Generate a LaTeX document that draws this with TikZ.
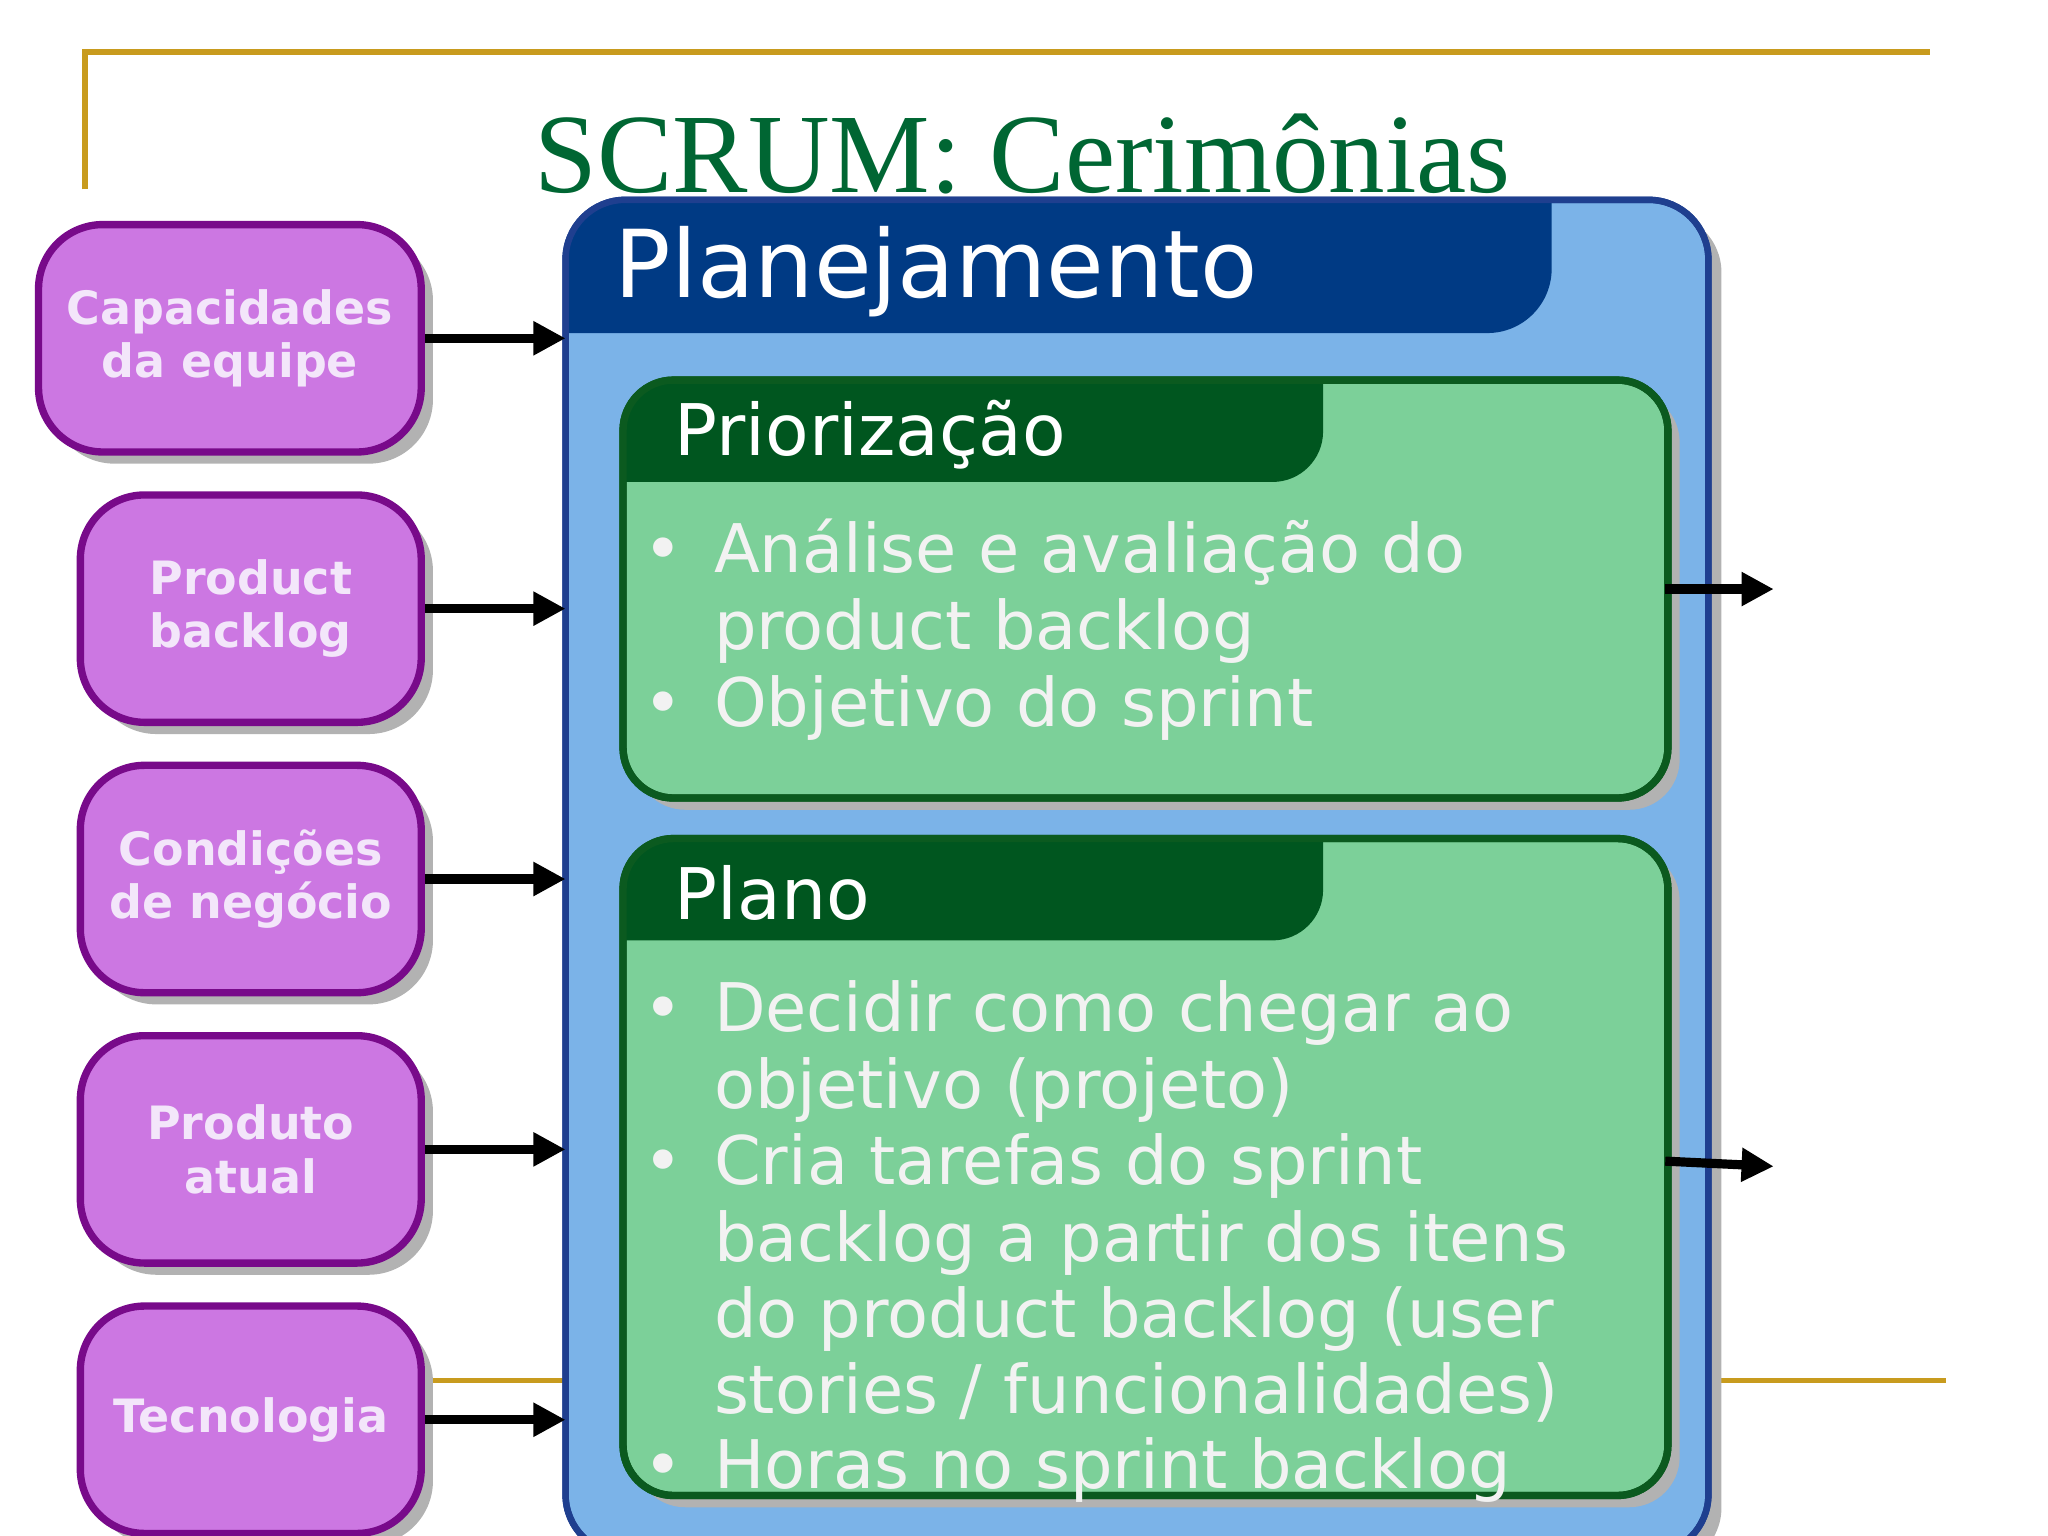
\documentclass[tikz,border=0pt]{standalone}
\usepackage{fontspec}
\setmainfont{DejaVu Sans}
\newfontfamily\titlefont{Liberation Serif}
\usetikzlibrary{arrows.meta}
\definecolor{gold}{HTML}{C89B1E}
\definecolor{titgreen}{HTML}{006633}
\definecolor{planfill}{HTML}{7BB3E8}
\definecolor{planline}{HTML}{1F3F8F}
\definecolor{plandark}{HTML}{003A84}
\definecolor{grfill}{HTML}{7CD099}
\definecolor{grline}{HTML}{0B5A1F}
\definecolor{grdark}{HTML}{00561F}
\definecolor{pufill}{HTML}{CC77E2}
\definecolor{puline}{HTML}{780A8A}
\definecolor{putext}{HTML}{F3E6FA}
\definecolor{bltext}{HTML}{F2F2F2}
\tikzset{
  inbox/.style = {draw = puline, line width = 1.6pt, fill = pufill, rounded corners = 14pt,
    text = putext, font = \bfseries\fontsize{10pt}{11.6pt}\selectfont, align = center},
  feed/.style = {line width = 2pt, -{Triangle[length=7pt,width=7pt]}},
  bline/.style = {anchor = base west, text = bltext, font = \fontsize{14.6pt}{16.5pt}\selectfont, inner sep = 0pt},
  shadow/.style = {fill = black!30, draw = none}
}
\begin{document}
\begin{tikzpicture}[x = 0.01cm, y = -0.01cm]
		\useasboundingbox (0,0) rectangle (1568,1176);
		% frame lines
		\draw [gold, line width = 1.2pt] (65,145) -- (65,40) -- (1478,40);
		\draw [gold, line width = 1.2pt] (325,1057) -- (1490,1057);
		\node (title) at (783,118) [text = titgreen, font = \titlefont\fontsize{24.6pt}{24.6pt}\selectfont] {SCRUM: Cerimônias};
		
		% planejamento
		\fill [shadow, rounded corners = 13pt] (443,163) rectangle (1318,1200);
		\draw [planline, line width = 1.4pt, fill = planfill, rounded corners = 13pt] (433,153) rectangle (1308,1190);
		\begin{scope}
			\clip [rounded corners = 13pt] (433,153) rectangle (1308,1190);
			\fill [plandark] (433,153) -- (1188,153) [rounded corners = 14pt] -- (1188,255) [sharp corners] -- (433,255) -- cycle;
		\end{scope}
		\draw [planline, line width = 1.4pt, rounded corners = 13pt] (433,153) rectangle (1308,1190);
		\node (plan) at (470,208) [anchor = west, text = white, font = \fontsize{20.4pt}{20.4pt}\selectfont, inner sep = 0pt] {Planejamento};
		\coordinate (pw) at (433,0);
		
		% priorizacao
		\fill [shadow, rounded corners = 11pt] (486,300) rectangle (1286,620);
		\draw [grline, line width = 1.6pt, fill = grfill, rounded corners = 11pt] (477,291) rectangle (1277,611);
		\begin{scope}
			\clip [rounded corners = 11pt] (477,291) rectangle (1277,611);
			\fill [grdark] (477,291) -- (1013,291) [rounded corners = 11pt] -- (1013,369) [sharp corners] -- (477,369) -- cycle;
		\end{scope}
		\draw [grline, line width = 1.6pt, rounded corners = 11pt] (477,291) rectangle (1277,611);
		\node (prio) at (516,333) [anchor = west, text = white, font = \fontsize{15.5pt}{15.5pt}\selectfont, inner sep = 0pt] {Priorização};
		\foreach \y/\t in {438/Análise e avaliação do, 497/product backlog, 556/Objetivo do sprint}
			\node at (546,\y) [bline] {\t};
		\foreach \y in {438,556}
			\node at (508,\y) [bline, anchor = base] {\textbullet};
		
		% plano
		\fill [shadow, rounded corners = 11pt] (486,651) rectangle (1286,1154);
		\draw [grline, line width = 1.6pt, fill = grfill, rounded corners = 11pt] (477,642) rectangle (1277,1145);
		\begin{scope}
			\clip [rounded corners = 11pt] (477,642) rectangle (1277,1145);
			\fill [grdark] (477,642) -- (1013,642) [rounded corners = 11pt] -- (1013,720) [sharp corners] -- (477,720) -- cycle;
		\end{scope}
		\draw [grline, line width = 1.6pt, rounded corners = 11pt] (477,642) rectangle (1277,1145);
		\node (plano) at (516,684) [anchor = west, text = white, font = \fontsize{15.5pt}{15.5pt}\selectfont, inner sep = 0pt] {Plano};
		\foreach \y/\t in {790/Decidir como chegar ao, 849/objetivo (projeto), 907/Cria tarefas do sprint, 966/backlog a partir dos itens, 1024/do product backlog (user, 1082/{stories / funcionalidades)}, 1140/Horas no sprint backlog}
			\node at (546,\y) [bline] {\t};
		\foreach \y in {790,907,1140}
			\node at (508,\y) [bline, anchor = base] {\textbullet};
		
		% entradas
		\foreach \n/\x/\w/\y/\t in {cap/176/293/259/{Capacidades\\da equipe}, pb/192/261/466/{Product\\backlog}, cond/192/261/673/{Condições\\de negócio}, prod/192/261/880/{Produto\\atual}, tec/192/261/1087/{Tecnologia}} {
			\fill [shadow, rounded corners = 14pt] (\x-\w/2+9,\y-87+9) rectangle (\x+\w/2+9,\y+87+9);
			\node (\n) at (\x,\y) [inbox, minimum width = \w*0.01cm, minimum height = 1.74cm] {\t};
			\draw [feed] (\n.east) -- (\n.east -| pw);
		}
		
		% saidas
		\coordinate (out1) at (1358,451);
		\coordinate (out2) at (1358,893);
		\draw [feed] (1275,451) -- (out1);
		\draw [feed] (1275,889) -- (out2);
		\end{tikzpicture}
\end{document}
